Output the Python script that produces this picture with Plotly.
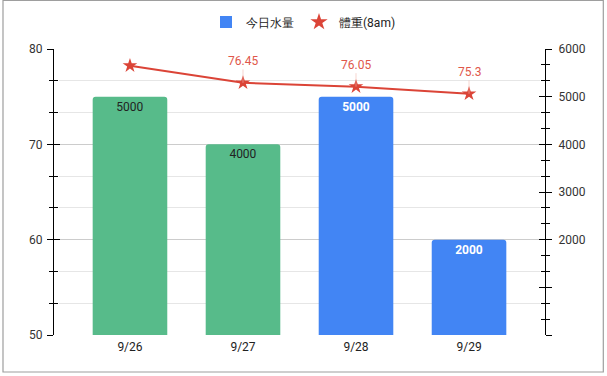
import plotly.graph_objects as go

dates = ["9/26", "9/27", "9/28", "9/29"]
water = [5000, 4000, 5000, 2000]
weight = [78.25, 76.45, 76.05, 75.3]
weight_labels = ["", "76.45", "76.05", "75.3"]
highlight = [False, False, True, True]
right_tickvals = [0, 1000, 2000, 3000, 4000, 5000, 6000]
right_ticktext = ["", "", "2000", "3000", "4000", "5000", "6000"]

GREEN = "#57BB8A"
BLUE = "#4285F4"
RED = "#DB4437"
FONT = "Roboto, Arial, sans-serif"

bar_colors = [BLUE if h else GREEN for h in highlight]
bar_text = [f"<b>{v}</b>" if h else f"{v}" for v, h in zip(water, highlight)]
bar_text_colors = ["#ffffff" if h else "#222222" for h in highlight]

fig = go.Figure()
fig.add_trace(go.Bar(
    x=dates, y=water, yaxis="y", width=0.66,
    marker=dict(color=bar_colors, cornerradius=3, line=dict(width=0)),
    text=bar_text, textposition="inside", insidetextanchor="end",
    textfont=dict(color=bar_text_colors, size=12, family=FONT),
    textangle=0, showlegend=False, hoverinfo="skip",
))
# legend proxies
fig.add_trace(go.Scatter(
    x=[None], y=[None], mode="markers", name="今日水量", yaxis="y",
    marker=dict(symbol="square", size=12, color=BLUE),
))
fig.add_trace(go.Scatter(
    x=[None], y=[None], mode="markers", name="體重(8am)", yaxis="y",
    marker=dict(symbol="star", size=13, color=RED, line=dict(width=0)),
))
fig.add_trace(go.Scatter(
    x=dates, y=weight, yaxis="y2", mode="lines+markers", name="體重(8am)",
    line=dict(color=RED, width=2), showlegend=False,
    marker=dict(symbol="star", size=11, color=RED, line=dict(width=0)),
))

for d, w, lab in zip(dates, weight, weight_labels):
    if lab:
        fig.add_annotation(
            x=d, y=w, xref="x", yref="y2", text=lab, showarrow=True,
            arrowhead=0, arrowwidth=0.6, arrowcolor="#f0b8b0",
            ax=0, ay=-22, standoff=0,
            font=dict(color="#E0574A", size=12, family=FONT),
        )

tick_common = dict(tickcolor="#000000", tickwidth=1, zeroline=False,
                   tickfont=dict(size=12, color="#333333", family=FONT))

fig.update_layout(
    width=607, height=376,
    margin=dict(l=53, r=62, t=49, b=41, autoexpand=False),
    paper_bgcolor="white", plot_bgcolor="white",
    font=dict(family=FONT, size=12, color="#222222"),
    xaxis=dict(
        type="category", range=[-0.628, 3.628], domain=[6 / 492, 487 / 492],
        showgrid=False, showline=False, ticks="", zeroline=False,
        ticklabelstandoff=3,
        tickfont=dict(size=12, color="#222222", family=FONT),
    ),
    yaxis=dict(
        range=[0, 6000], side="right", anchor="free", position=1,
        tickvals=right_tickvals, ticktext=right_ticktext,
        ticks="outside", ticklen=6, showgrid=False,
        showline=True, linecolor="#000000", linewidth=1.3,
        minor=dict(dtick=1000 / 3, tick0=0, ticks="outside", ticklen=4,
                   tickcolor="#000000", showgrid=False),
        ticklabelstandoff=4,
        **tick_common,
    ),
    yaxis2=dict(
        range=[50, 80], side="left", overlaying="y", anchor="free", position=0,
        tick0=50, dtick=10, ticks="outside", ticklen=6,
        showgrid=True, gridcolor="#cccccc", gridwidth=1,
        showline=True, linecolor="#000000", linewidth=1.3,
        minor=dict(dtick=10 / 3, tick0=50, ticks="outside", ticklen=4,
                   tickcolor="#000000", showgrid=True, gridcolor="#e6e6e6"),
        ticklabelstandoff=2,
        **tick_common,
    ),
    yaxis3=dict(
        range=[0, 6000], side="right", overlaying="y", anchor="free", position=1,
        tickvals=right_tickvals, ticks="inside", ticklen=6, showticklabels=False,
        showgrid=False, showline=False,
        minor=dict(dtick=1000 / 3, tick0=0, ticks="inside", ticklen=4,
                   tickcolor="#000000", showgrid=False),
        **tick_common,
    ),
    yaxis4=dict(
        range=[50, 80], side="left", overlaying="y", anchor="free", position=0,
        tick0=50, dtick=10, ticks="inside", ticklen=6, showticklabels=False,
        showgrid=False, showline=False,
        minor=dict(dtick=10 / 3, tick0=50, ticks="inside", ticklen=4,
                   tickcolor="#000000", showgrid=False),
        **tick_common,
    ),
    legend=dict(
        orientation="h", xref="container", yref="container",
        x=0.5, xanchor="center", y=1 - 22 / 376, yanchor="middle",
        font=dict(size=12, color="#222222", family=FONT),
        itemwidth=30, bgcolor="rgba(0,0,0,0)",
    ),
)

# dummy traces so the crossing-tick axes render
fig.add_trace(go.Scatter(x=[None], y=[None], yaxis="y3", showlegend=False, hoverinfo="skip"))
fig.add_trace(go.Scatter(x=[None], y=[None], yaxis="y4", showlegend=False, hoverinfo="skip"))

# sheet frame around the chart
fig.add_shape(type="rect", xref="paper", yref="paper",
              x0=(3 - 53) / 492, x1=(603.3 - 53) / 492,
              y0=(335 - 372) / 286, y1=(335 - 0.5) / 286,
              line=dict(color="#9e9e9e", width=1.2), fillcolor="rgba(0,0,0,0)",
              layer="below")

fig.write_html("out.html")
